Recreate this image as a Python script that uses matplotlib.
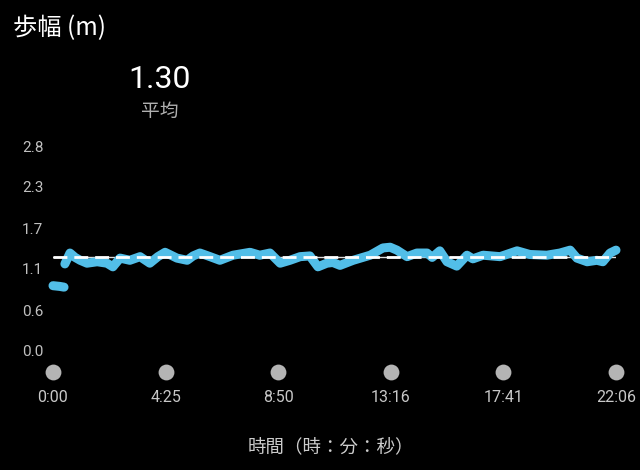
import matplotlib
matplotlib.use("Agg")
import matplotlib.pyplot as plt

# ---- data ----
title = "歩幅 (m)"
avg_value = 1.30
avg_label = "平均"
xlabel = "時間（時：分：秒）"
x_tick_secs = [0, 265, 530, 796, 1061, 1326]
x_tick_labels = ["0:00", "4:25", "8:50", "13:16", "17:41", "22:06"]
y_tick_vals = [0.0, 0.565, 1.13, 1.695, 2.26, 2.825]
y_tick_labels = ["0.0", "0.6", "1.1", "1.7", "2.3", "2.8"]

seg1_t = [0, 16, 26]
seg1_v = [0.90, 0.89, 0.88]

seg2_t = [28, 40, 52, 64, 80, 104, 127, 141, 158, 181, 205, 228, 247, 264, 292,
          316, 330, 346, 370, 393, 424, 464, 487, 511, 535, 558, 582, 605, 624,
          645, 659, 676, 707, 747, 777, 794, 810, 834, 857, 881, 893, 911, 928,
          951, 975, 989, 1013, 1053, 1093, 1123, 1163, 1194, 1218, 1234, 1258,
          1281, 1295, 1312, 1326]
seg2_v = [1.20, 1.35, 1.29, 1.25, 1.21, 1.23, 1.21, 1.16, 1.28, 1.25, 1.30, 1.21,
          1.30, 1.36, 1.28, 1.25, 1.31, 1.35, 1.30, 1.25, 1.32, 1.36, 1.32, 1.35,
          1.21, 1.25, 1.30, 1.31, 1.16, 1.21, 1.22, 1.18, 1.25, 1.32, 1.42, 1.43,
          1.39, 1.30, 1.35, 1.35, 1.29, 1.38, 1.23, 1.17, 1.32, 1.27, 1.32, 1.30,
          1.38, 1.33, 1.32, 1.35, 1.39, 1.28, 1.23, 1.25, 1.23, 1.35, 1.39]

CJK = ["Noto Sans CJK JP", "DejaVu Sans"]
NUM = ["Roboto", "DejaVu Sans"]
BLUE = "#52BEE8"

W, H = 640, 470
fig = plt.figure(figsize=(W / 100, H / 100), dpi=100, facecolor="black")
left, right, bottom, top = 53, 616, 351, 146
ax = fig.add_axes([left / W, 1 - bottom / H, (right - left) / W, (bottom - top) / H])
ax.set_facecolor("black")
ax.set_xlim(0, 1326)
ax.set_ylim(0, 2.825)
for s in ax.spines.values():
    s.set_visible(False)

# average line (thin solid + dashes)
ax.axhline(avg_value, color="#dddddd", lw=1.0, zorder=1)
for t, v in ((seg1_t, seg1_v), (seg2_t, seg2_v)):
    ax.plot(t, v, color=BLUE, lw=6.5, solid_capstyle="round",
            solid_joinstyle="round", clip_on=False, zorder=2)
ax.axhline(avg_value, color="white", lw=2.0, ls=(0, (5, 2.5)), zorder=3)

# ticks
ax.set_xticks(x_tick_secs)
ax.set_xticklabels(x_tick_labels, family=NUM, fontsize=11.5, color="#c8c8c8")
ax.tick_params(axis="x", length=0, pad=28)
ax.set_yticks(y_tick_vals)
ax.set_yticklabels(y_tick_labels, family=NUM, fontsize=11, color="#c0c0c0")
ax.tick_params(axis="y", length=0, pad=7)

# tick dots
ax.scatter(x_tick_secs, [-21 / (bottom - top)] * len(x_tick_secs),
           transform=ax.get_xaxis_transform(), s=130, color="#b4b4b4",
           clip_on=False, zorder=4, linewidths=0)

# texts
fig.text(13 / W, 1 - 28 / H, title, family=CJK, fontsize=17.5, color="white",
         ha="left", va="center")
fig.text(160 / W, 1 - 79 / H, f"{avg_value:.2f}", family=NUM, fontsize=23,
         color="white", ha="center", va="center")
fig.text(160 / W, 1 - 111 / H, avg_label, family=CJK, fontsize=13.5,
         color="#b0b0b0", ha="center", va="center")
fig.text(331 / W, 1 - 447 / H, xlabel, family=CJK, fontsize=13.3,
         color="#cccccc", ha="center", va="center")

fig.savefig("out.png", dpi=100, facecolor="black")
